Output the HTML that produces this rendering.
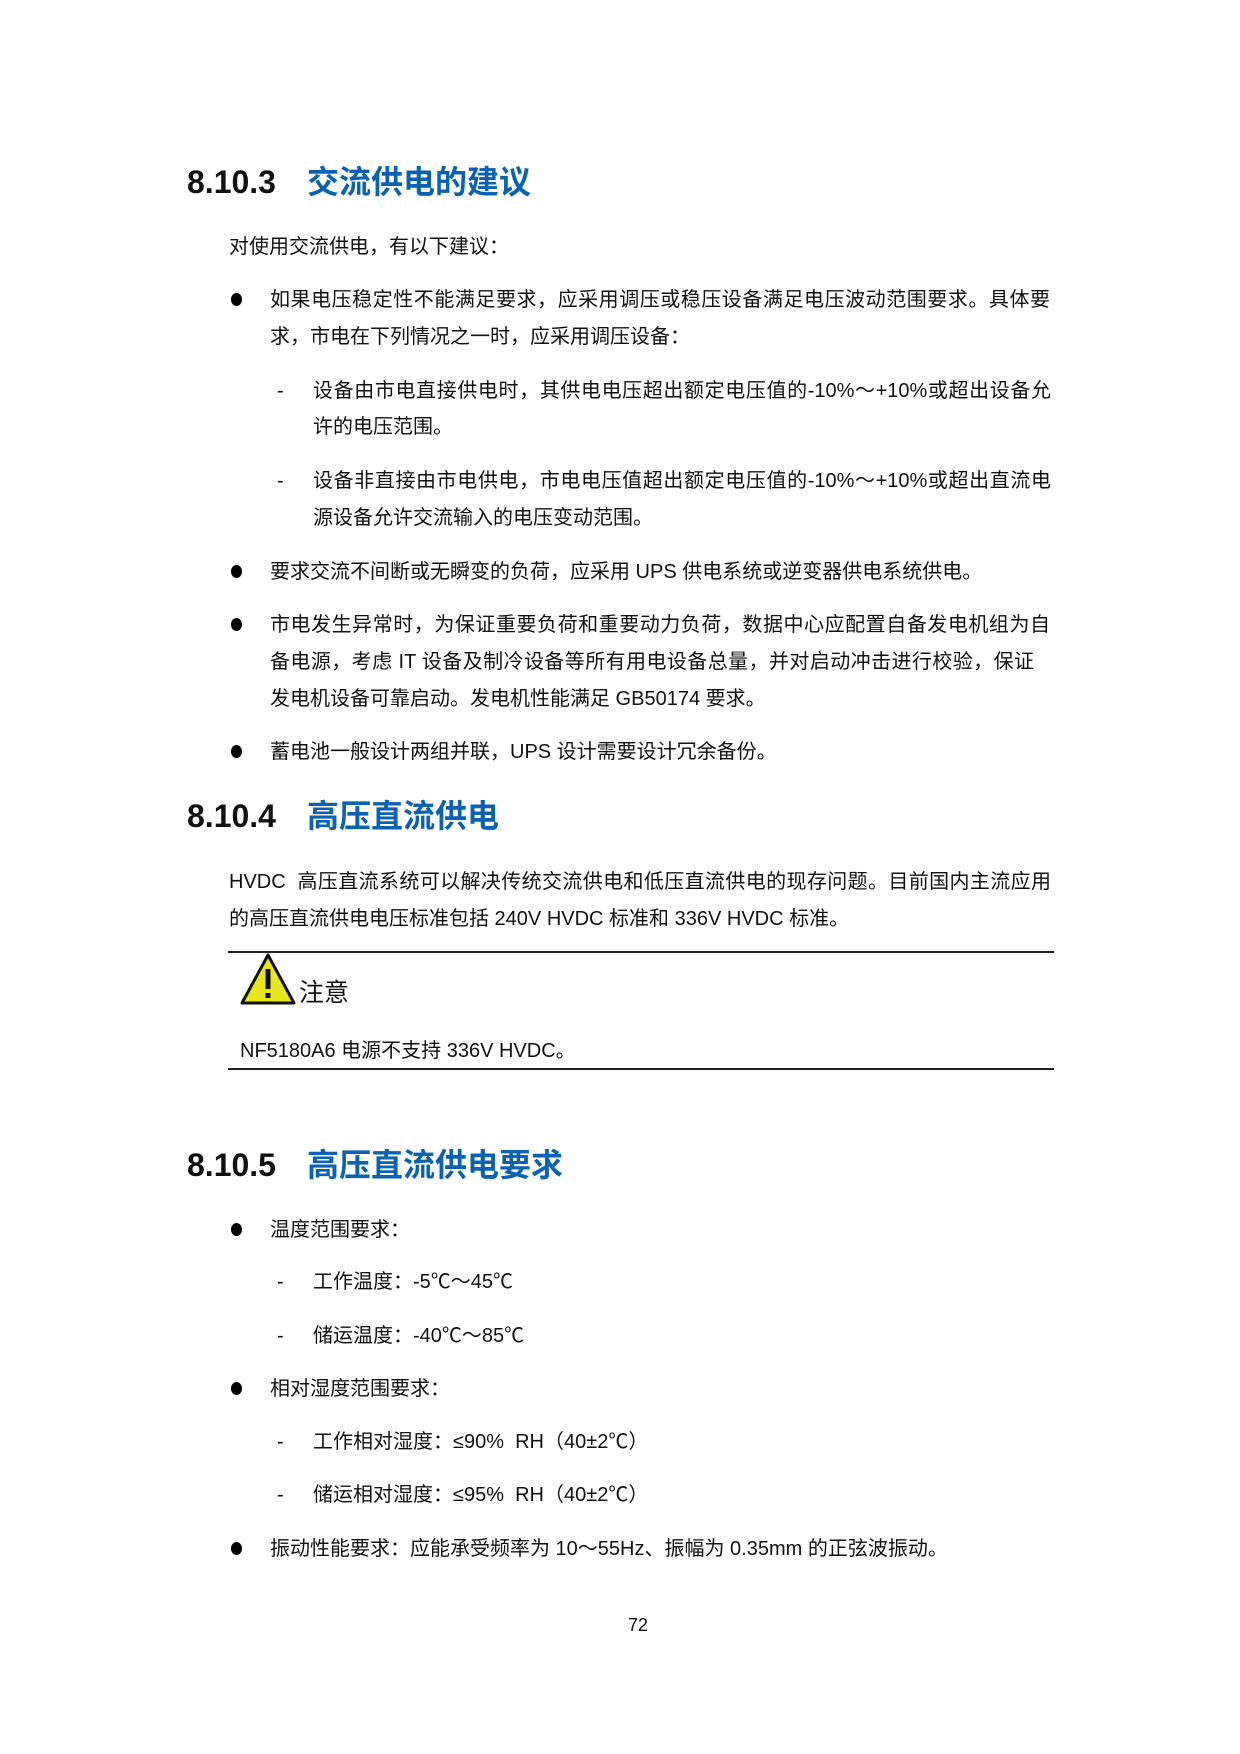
<!DOCTYPE html>
<html><head><meta charset="utf-8"><style>
body{margin:0;background:#fff;}
#p{position:relative;width:1240px;height:1754px;overflow:hidden;font-family:"Liberation Sans","Noto Sans CJK SC",sans-serif;color:#111;}
.l{position:absolute;font-size:20px;line-height:28px;white-space:nowrap;}
.j{text-align:justify;text-align-last:justify;white-space:normal;}
.h{position:absolute;font-size:32px;line-height:40px;font-weight:bold;white-space:nowrap;}
.h span{color:#0b62b0;margin-left:31px;}
.d{position:absolute;width:11px;height:13px;border-radius:50%;background:#000;}
.hr{position:absolute;left:228px;width:826px;height:1.5px;background:#222;}
</style></head><body><div id="p">
<div class="h" style="left:187px;top:162px">8.10.3<span>交流供电的建议</span></div>
<div class="l" style="left:229px;top:233px">对使用交流供电，有以下建议：</div>

<div class="d" style="left:231px;top:293px"></div>
<div class="l j" style="left:270px;top:286px;width:780px">如果电压稳定性不能满足要求，应采用调压或稳压设备满足电压波动范围要求。具体要</div>
<div class="l" style="left:270px;top:323px">求，市电在下列情况之一时，应采用调压设备：</div>

<div class="l" style="left:277px;top:377px">-</div>
<div class="l j" style="left:313px;top:377px;width:738px">设备由市电直接供电时，其供电电压超出额定电压值的-10%～+10%或超出设备允</div>
<div class="l" style="left:313px;top:413px">许的电压范围。</div>
<div class="l" style="left:277px;top:467px">-</div>
<div class="l j" style="left:313px;top:467px;width:738px">设备非直接由市电供电，市电电压值超出额定电压值的-10%～+10%或超出直流电</div>
<div class="l" style="left:313px;top:504px">源设备允许交流输入的电压变动范围。</div>

<div class="d" style="left:231px;top:565px"></div>
<div class="l" style="left:270px;top:558px">要求交流不间断或无瞬变的负荷，应采用 UPS 供电系统或逆变器供电系统供电。</div>

<div class="d" style="left:231px;top:618px"></div>
<div class="l j" style="left:270px;top:611px;width:780px">市电发生异常时，为保证重要负荷和重要动力负荷，数据中心应配置自备发电机组为自</div>
<div class="l j" style="left:270px;top:648px;width:764px">备电源，考虑 IT 设备及制冷设备等所有用电设备总量，并对启动冲击进行校验，保证</div>
<div class="l" style="left:270px;top:685px">发电机设备可靠启动。发电机性能满足 GB50174 要求。</div>

<div class="d" style="left:231px;top:745px"></div>
<div class="l" style="left:270px;top:738px">蓄电池一般设计两组并联，UPS 设计需要设计冗余备份。</div>

<div class="h" style="left:187px;top:796px">8.10.4<span>高压直流供电</span></div>
<div class="l j" style="left:229px;top:868px;width:822px">HVDC&nbsp; 高压直流系统可以解决传统交流供电和低压直流供电的现存问题。目前国内主流应用</div>
<div class="l" style="left:229px;top:905px">的高压直流供电电压标准包括 240V HVDC 标准和 336V HVDC 标准。</div>

<div class="hr" style="top:951px"></div>
<svg style="position:absolute;left:240px;top:953px" width="56" height="52" viewBox="0 0 56 52">
<polygon points="28,2 54,50 2,50" fill="#e6e61a" stroke="#111" stroke-width="3" stroke-linejoin="round"/>
<rect x="25.5" y="16" width="5" height="20" fill="#111"/><rect x="25.5" y="40" width="5" height="5" fill="#111"/>
</svg>
<div class="l" style="left:299px;top:976px;font-size:25px;line-height:34px">注意</div>
<div class="l" style="left:240px;top:1037px">NF5180A6 电源不支持 336V HVDC。</div>
<div class="hr" style="top:1068px"></div>

<div class="h" style="left:187px;top:1145px">8.10.5<span>高压直流供电要求</span></div>
<div class="d" style="left:231px;top:1223px"></div>
<div class="l" style="left:270px;top:1216px">温度范围要求：</div>
<div class="l" style="left:277px;top:1268px">-</div>
<div class="l" style="left:313px;top:1268px">工作温度：-5℃～45℃</div>
<div class="l" style="left:277px;top:1322px">-</div>
<div class="l" style="left:313px;top:1322px">储运温度：-40℃～85℃</div>
<div class="d" style="left:231px;top:1382px"></div>
<div class="l" style="left:270px;top:1375px">相对湿度范围要求：</div>
<div class="l" style="left:277px;top:1428px">-</div>
<div class="l" style="left:313px;top:1428px">工作相对湿度：≤90%&nbsp; RH（40±2℃）</div>
<div class="l" style="left:277px;top:1481px">-</div>
<div class="l" style="left:313px;top:1481px">储运相对湿度：≤95%&nbsp; RH（40±2℃）</div>
<div class="d" style="left:231px;top:1542px"></div>
<div class="l" style="left:270px;top:1535px">振动性能要求：应能承受频率为 10～55Hz、振幅为 0.35mm 的正弦波振动。</div>
<div class="l" style="left:628px;top:1611px;font-size:18px">72</div>
</div></body></html>
